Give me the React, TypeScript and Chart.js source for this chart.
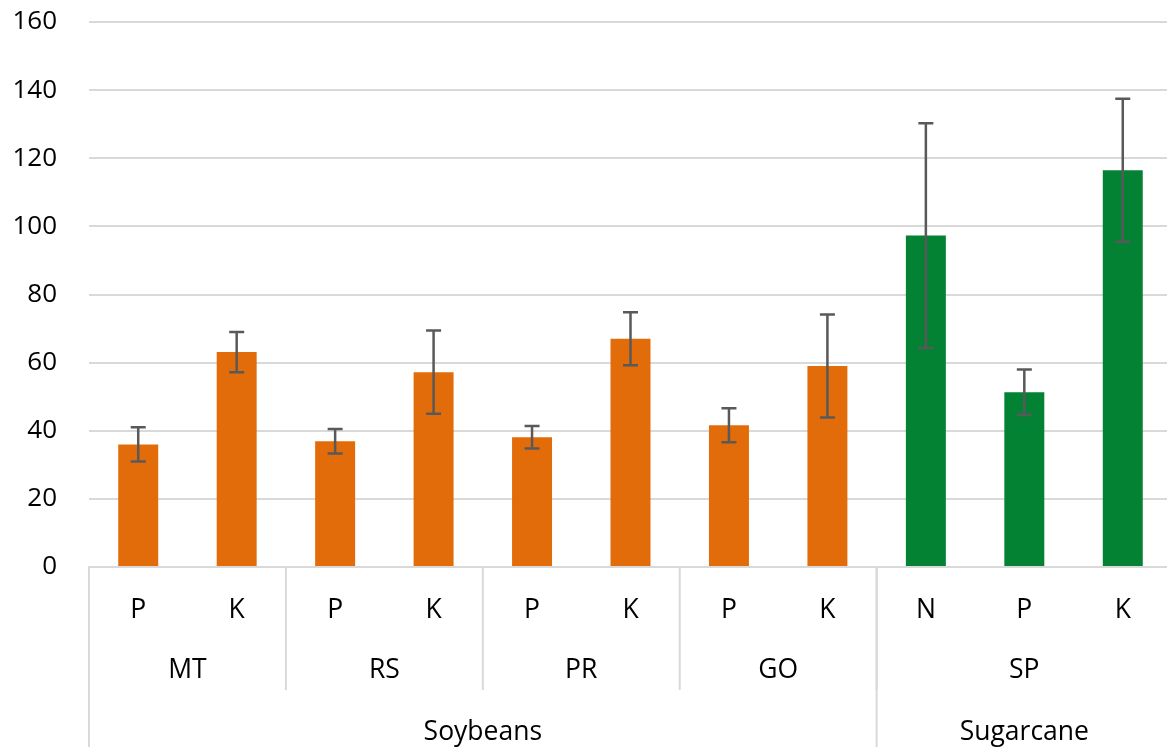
import React, { useEffect, useRef } from "react";
import { Chart, registerables } from "chart.js";

Chart.register(...registerables);

const nutrients = ["P", "K", "P", "K", "P", "K", "P", "K", "N", "P", "K"];
const states = ["MT", "RS", "PR", "GO", "SP"];
const stateSpans = [2, 2, 2, 2, 3];
const crops = ["Soybeans", "Sugarcane"];
const cropSpans = [8, 3];
const values = [36.0, 63.1, 36.9, 57.2, 38.1, 67.0, 41.6, 59.0, 97.3, 51.3, 116.5];
const errors = [5.0, 5.9, 3.6, 12.2, 3.3, 7.8, 5.0, 15.1, 33.0, 6.7, 21.0];
const barColors = [
  "#E36C0A", "#E36C0A", "#E36C0A", "#E36C0A", "#E36C0A", "#E36C0A", "#E36C0A", "#E36C0A",
  "#038234", "#038234", "#038234",
];
const yTicks = [0, 20, 40, 60, 80, 100, 120, 140, 160];

const FONT = "'Open Sans', 'Noto Sans', sans-serif";

const errorBarPlugin = {
  id: "errorBars",
  afterDatasetsDraw(chart: any) {
    const meta = chart.getDatasetMeta(0);
    const y = chart.scales.y;
    const ctx = chart.ctx;
    ctx.save();
    ctx.strokeStyle = "#595959";
    ctx.lineWidth = 2.5;
    meta.data.forEach((bar: any, i: number) => {
      const x = bar.x;
      const top = y.getPixelForValue(values[i] + errors[i]);
      const bot = y.getPixelForValue(values[i] - errors[i]);
      ctx.beginPath();
      ctx.moveTo(x, top);
      ctx.lineTo(x, bot);
      ctx.moveTo(x - 7.5, top);
      ctx.lineTo(x + 7.5, top);
      ctx.moveTo(x - 7.5, bot);
      ctx.lineTo(x + 7.5, bot);
      ctx.stroke();
    });
    ctx.restore();
  },
};

const multiAxisPlugin = {
  id: "multiAxis",
  afterDraw(chart: any) {
    const xs = chart.scales.x;
    const ctx = chart.ctx;
    const area = chart.chartArea;
    const n = nutrients.length;
    const step = (area.right - area.left) / n;
    const bottomY = area.bottom;
    const H = chart.height;
    const boundary = (i: number) => area.left + step * i;
    ctx.save();
    ctx.strokeStyle = "#d9d9d9";
    ctx.lineWidth = 2;
    let idx = 0;
    stateSpans.forEach((s) => {
      ctx.beginPath();
      ctx.moveTo(boundary(idx), bottomY);
      ctx.lineTo(boundary(idx), 690);
      ctx.stroke();
      idx += s;
    });
    ctx.beginPath();
    ctx.moveTo(boundary(idx), bottomY);
    ctx.lineTo(boundary(idx), 690);
    ctx.stroke();
    idx = 0;
    const cropBounds = [0];
    cropSpans.forEach((s) => {
      idx += s;
      cropBounds.push(idx);
    });
    cropBounds.forEach((b) => {
      ctx.beginPath();
      ctx.moveTo(boundary(b), bottomY);
      ctx.lineTo(boundary(b), H);
      ctx.stroke();
    });

    ctx.fillStyle = "#000000";
    ctx.font = `26.5px ${FONT}`;
    ctx.textAlign = "center";
    ctx.textBaseline = "middle";
    nutrients.forEach((lab, i) => {
      ctx.fillText(lab, xs.getPixelForValue(i), 610);
    });
    idx = 0;
    states.forEach((lab, k) => {
      const cx = (boundary(idx) + boundary(idx + stateSpans[k])) / 2;
      ctx.fillText(lab, cx, 670);
      idx += stateSpans[k];
    });
    idx = 0;
    crops.forEach((lab, k) => {
      const cx = (boundary(idx) + boundary(idx + cropSpans[k])) / 2;
      ctx.fillText(lab, cx, 732);
      idx += cropSpans[k];
    });
    ctx.restore();
  },
};

export default function App() {
  const ref = useRef<HTMLCanvasElement | null>(null);

  useEffect(() => {
    document.body.style.margin = "0";
    document.body.style.overflow = "hidden";
    const chart = new Chart(ref.current as HTMLCanvasElement, {
      type: "bar",
      data: {
        labels: nutrients.map((n, i) => `${n}${i}`),
        datasets: [
          {
            data: values,
            backgroundColor: barColors,
            borderWidth: 0,
            barPercentage: 0.406,
            categoryPercentage: 1,
          },
        ],
      },
      options: {
        animation: false,
        responsive: true,
        maintainAspectRatio: false,
        layout: { padding: { top: 22, left: 0, right: 0, bottom: 0 } },
        plugins: {
          legend: { display: false },
          tooltip: { enabled: false },
        },
        scales: {
          x: {
            grid: { display: false },
            border: { display: true, color: "#d9d9d9", width: 2 },
            ticks: { display: false },
            afterFit: (scale: any) => {
              scale.height = 180;
              scale.paddingLeft = 0;
              scale.paddingRight = 0;
            },
          },
          y: {
            min: 0,
            max: 160,
            afterBuildTicks: (scale: any) => {
              scale.ticks = yTicks.map((v) => ({ value: v }));
            },
            grid: { color: "#d9d9d9", lineWidth: 2, drawTicks: false },
            border: { display: false },
            ticks: {
              padding: 32,
              color: "#000000",
              font: { family: FONT, size: 26 },
            },
            afterFit: (scale: any) => {
              scale.width = 89;
              scale.paddingTop = 0;
              scale.paddingBottom = 0;
            },
          },
        },
      },
      plugins: [errorBarPlugin, multiAxisPlugin],
    });
    return () => chart.destroy();
  }, []);

  return (
    <div style={{ width: 1167, height: 747, overflow: "hidden", position: "relative" }}>
      <div style={{ width: 1172, height: 747, position: "absolute", left: 0, top: 0 }}>
        <canvas ref={ref} />
      </div>
    </div>
  );
}
